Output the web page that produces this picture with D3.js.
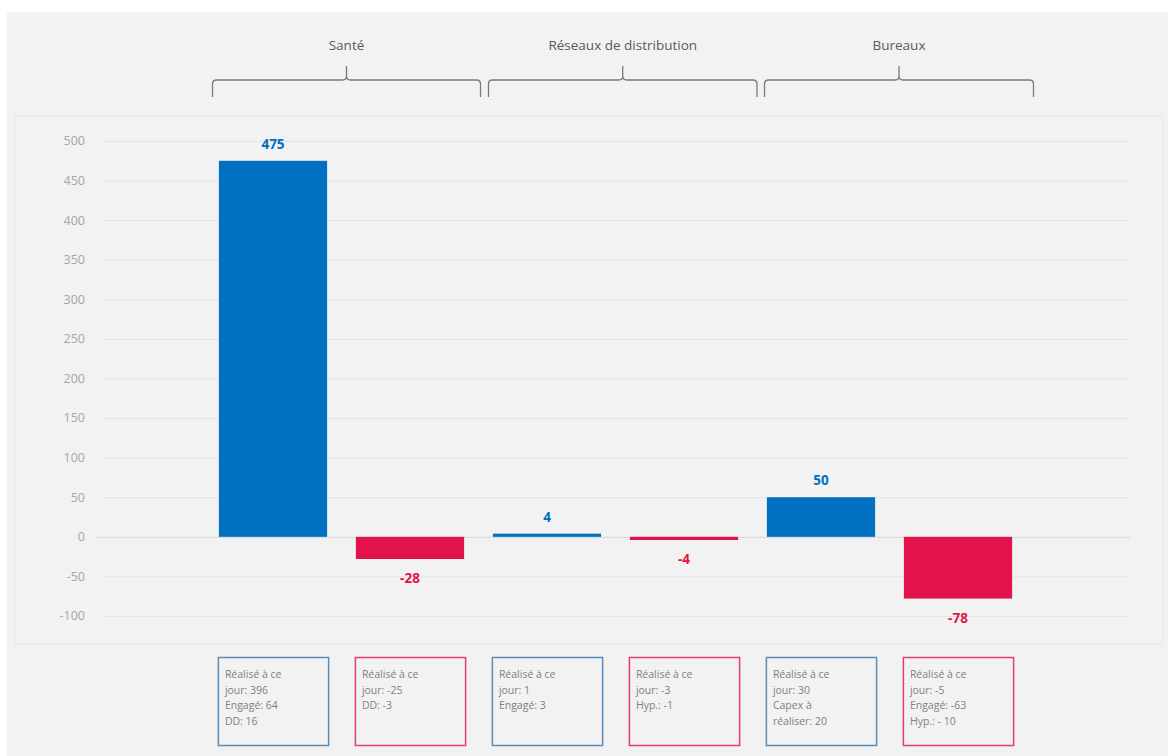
<!DOCTYPE html>
<html>
<head>
<meta charset="utf-8">
<script src="https://cdn.jsdelivr.net/npm/d3@7"></script>
<style>
  body { margin: 0; background: #fff; }
  svg { display: block; font-family: "Open Sans", "Liberation Sans", sans-serif; }
</style>
</head>
<body>
<script>
// groups shown with braces on top
const groups = ["Santé", "Réseaux de distribution", "Bureaux"];
// one entry per bar
const barGroup = ["Santé", "Santé", "Réseaux de distribution", "Réseaux de distribution", "Bureaux", "Bureaux"];
const barKind = ["pos", "neg", "pos", "neg", "pos", "neg"];
const values = [475, -28, 4, -4, 50, -78];
const yTicks = [500, 450, 400, 350, 300, 250, 200, 150, 100, 50, 0, -50, -100];
const notes = [
    ["Réalisé à ce", "jour: 396", "Engagé: 64", "DD: 16"],
    ["Réalisé à ce", "jour: -25", "DD: -3"],
    ["Réalisé à ce", "jour: 1", "Engagé: 3"],
    ["Réalisé à ce", "jour: -3", "Hyp.: -1"],
    ["Réalisé à ce", "jour: 30", "Capex à", "réaliser: 20"],
    ["Réalisé à ce", "jour: -5", "Engagé: -63", "Hyp.: - 10"]
];

const W = 1168, H = 756;
const color = { pos: "#0070C0", neg: "#E2134A" };

const svg = d3.select("body").append("svg")
    .attr("width", W)
    .attr("height", H);

// panel background
svg.append("rect").attr("x", 7).attr("y", 12).attr("width", W - 7).attr("height", H - 12)
    .attr("fill", "#f2f2f2");
svg.append("rect").attr("x", 15).attr("y", 116).attr("width", 1148).attr("height", 528)
    .attr("fill", "#f2f2f2").attr("stroke", "#e8e8e8");

const idx = d3.range(values.length);

const x = d3.scaleBand()
    .domain(idx)
    .range([204.5, 1026.5])
    .paddingInner(0.21)
    .paddingOuter(0.105);

const y = d3.scaleLinear()
    .domain([-100, 500])
    .range([616, 141]);

// grid + tick labels
const g = svg.append("g");
g.selectAll(".grid")
    .data(yTicks)
    .enter().append("line")
    .attr("x1", d => d === 0 ? 97 : 103)
    .attr("x2", 1130)
    .attr("y1", d => y(d) + 0.5)
    .attr("y2", d => y(d) + 0.5)
    .attr("stroke", d => d === 0 ? "#d6d6d6" : "#e3e3e3")
    .attr("stroke-width", 1);

g.selectAll(".tick")
    .data(yTicks)
    .enter().append("text")
    .attr("x", 85)
    .attr("y", d => y(d))
    .attr("dy", "0.35em")
    .attr("text-anchor", "end")
    .attr("font-size", 12.5)
    .attr("fill", "#a6a6a6")
    .text(d => d);

// bars
svg.selectAll(".bar")
    .data(idx)
    .enter().append("rect")
    .attr("x", i => x(i))
    .attr("width", x.bandwidth())
    .attr("y", i => y(Math.max(0, values[i])))
    .attr("height", i => Math.abs(y(values[i]) - y(0)))
    .attr("fill", i => color[barKind[i]]);

// value labels
svg.selectAll(".val")
    .data(idx)
    .enter().append("text")
    .attr("x", i => x(i) + x.bandwidth() / 2)
    .attr("y", i => values[i] >= 0 ? y(values[i]) - 12 : y(values[i]) + 24)
    .attr("text-anchor", "middle")
    .attr("font-size", 13.5)
    .attr("font-weight", "bold")
    .attr("fill", i => color[barKind[i]])
    .text(i => values[i]);

// braces on top
groups.forEach((name, gi) => {
    const members = idx.filter(i => barGroup[i] === name);
    const x0 = x(members[0]) - x.step() * x.paddingInner() / 2 + 8 + gi * 2;
    const x1 = x(members[members.length - 1]) + x.bandwidth() + x.step() * x.paddingInner() / 2 + 2 + gi * 2.5;
    const xm = (x0 + x1) / 2;
    const yb = 80, r = 4;
    const path = d3.path();
    path.moveTo(x0, yb + 17);
    path.lineTo(x0, yb + r);
    path.quadraticCurveTo(x0, yb, x0 + r, yb);
    path.lineTo(xm - r, yb);
    path.quadraticCurveTo(xm, yb, xm, yb - r);
    path.lineTo(xm, yb - 14);
    path.moveTo(xm, yb - r);
    path.quadraticCurveTo(xm, yb, xm + r, yb);
    path.lineTo(x1 - r, yb);
    path.quadraticCurveTo(x1, yb, x1, yb + r);
    path.lineTo(x1, yb + 17);
    svg.append("path")
        .attr("d", path.toString())
        .attr("fill", "none")
        .attr("stroke", "#7a7a7a")
        .attr("stroke-width", 1.3);
    svg.append("text")
        .attr("x", xm)
        .attr("y", 50)
        .attr("text-anchor", "middle")
        .attr("font-size", 13.5)
        .attr("fill", "#595959")
        .text(name);
});

// note boxes under bars
const box = svg.selectAll(".note")
    .data(idx)
    .enter().append("g")
    .attr("transform", i => "translate(" + (x(i) - 1) + ",657)");

box.append("rect")
    .attr("x", 0.5).attr("y", 0.5)
    .attr("width", x.bandwidth() + 2)
    .attr("height", 88)
    .attr("fill", "none")
    .attr("stroke", i => barKind[i] === "pos" ? "#5b8db8" : "#e0406a")
    .attr("stroke-width", 1.5);

box.selectAll("text")
    .data(i => notes[i])
    .enter().append("text")
    .attr("x", 7)
    .attr("y", (d, j) => 21 + j * 15.5)
    .attr("font-size", 10.5)
    .attr("fill", "#7f7f7f")
    .text(d => d);
</script>
</body>
</html>
